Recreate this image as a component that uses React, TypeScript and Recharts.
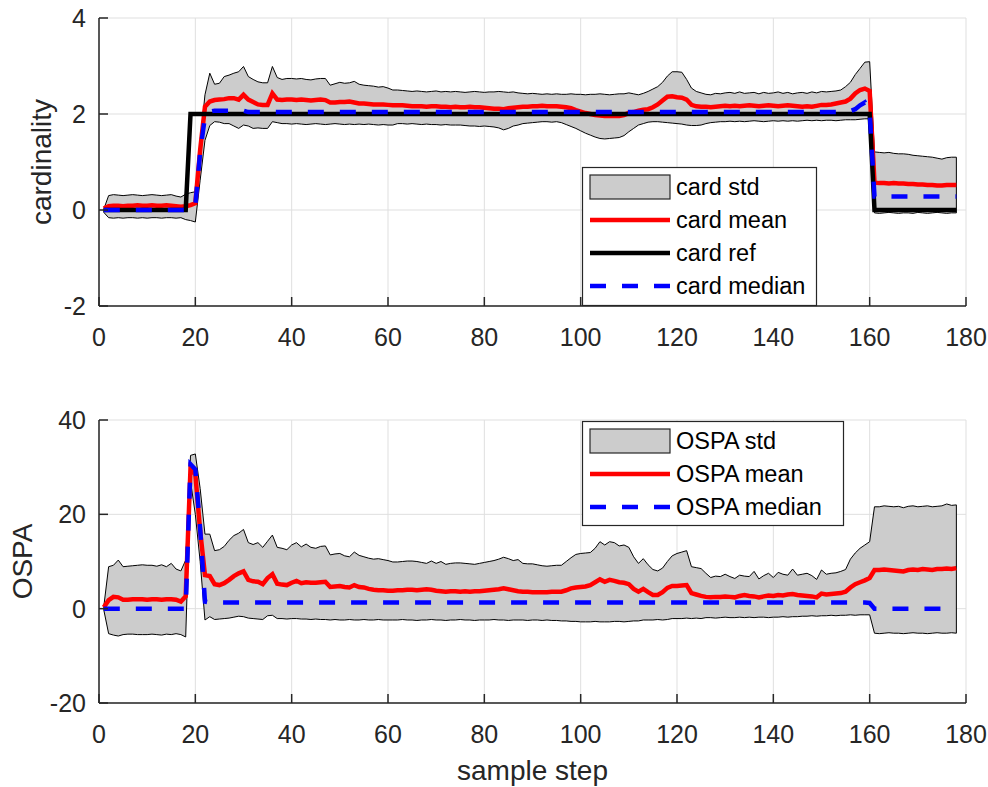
import React from 'react';
import { ComposedChart, Area, Line, XAxis, YAxis, CartesianGrid, ReferenceLine } from 'recharts';

// ---------- data (sample steps 1..178) ----------
const cardUpper = [
  0.02, 0.30, 0.32, 0.31, 0.30, 0.31, 0.32, 0.31, 0.30, 0.31,
  0.32, 0.31, 0.30, 0.31, 0.32, 0.29, 0.27, 0.33, 0.36, 0.38,
  1.40, 2.40, 2.85, 2.62, 2.64, 2.78, 2.81, 2.85, 2.88, 2.99,
  2.78, 2.72, 2.67, 2.65, 2.65, 2.99, 2.76, 2.72, 2.74, 2.74,
  2.73, 2.74, 2.72, 2.71, 2.73, 2.74, 2.74, 2.60, 2.63, 2.66,
  2.64, 2.65, 2.68, 2.62, 2.60, 2.59, 2.58, 2.56, 2.57, 2.54,
  2.50, 2.50, 2.49, 2.48, 2.47, 2.48, 2.47, 2.46, 2.47, 2.48,
  2.46, 2.47, 2.46, 2.47, 2.46, 2.45, 2.46, 2.47, 2.46, 2.45,
  2.46, 2.46, 2.47, 2.46, 2.45, 2.46, 2.44, 2.43, 2.42, 2.43,
  2.42, 2.41, 2.42, 2.41, 2.42, 2.41, 2.41, 2.42, 2.41, 2.41,
  2.40, 2.41, 2.41, 2.42, 2.41, 2.40, 2.41, 2.42, 2.42, 2.44,
  2.42, 2.40, 2.43, 2.47, 2.52, 2.57, 2.66, 2.79, 2.88, 2.88,
  2.87, 2.72, 2.54, 2.47, 2.44, 2.41, 2.40, 2.43, 2.42, 2.44,
  2.45, 2.43, 2.46, 2.43, 2.44, 2.45, 2.42, 2.45, 2.43, 2.44,
  2.46, 2.43, 2.45, 2.42, 2.44, 2.45, 2.43, 2.46, 2.44, 2.47,
  2.46, 2.47, 2.48, 2.50, 2.57, 2.66, 2.82, 2.95, 3.08, 3.09,
  1.21, 1.20, 1.19, 1.20, 1.18, 1.17, 1.17, 1.16, 1.14, 1.13,
  1.12, 1.11, 1.10, 1.08, 1.06, 1.09, 1.10, 1.10,
];

const cardLower = [
  -0.05, -0.16, -0.17, -0.16, -0.17, -0.16, -0.16, -0.17, -0.16, -0.17,
  -0.16, -0.16, -0.17, -0.16, -0.16, -0.17, -0.16, -0.20, -0.22, -0.25,
  0.62, 1.45, 1.76, 1.84, 1.83, 1.80, 1.80, 1.75, 1.70, 1.77,
  1.75, 1.70, 1.71, 1.70, 1.70, 1.84, 1.82, 1.80, 1.80, 1.79,
  1.80, 1.79, 1.78, 1.79, 1.80, 1.79, 1.78, 1.79, 1.80, 1.79,
  1.78, 1.79, 1.78, 1.79, 1.78, 1.79, 1.78, 1.77, 1.78, 1.77,
  1.77, 1.80, 1.80, 1.79, 1.80, 1.79, 1.78, 1.79, 1.78, 1.78,
  1.77, 1.78, 1.77, 1.77, 1.77, 1.76, 1.75, 1.75, 1.74, 1.75,
  1.74, 1.73, 1.71, 1.67, 1.70, 1.75, 1.77, 1.80, 1.81, 1.82,
  1.83, 1.84, 1.84, 1.83, 1.84, 1.82, 1.78, 1.74, 1.70, 1.65,
  1.60, 1.56, 1.52, 1.49, 1.48, 1.49, 1.50, 1.51, 1.55, 1.63,
  1.70, 1.77, 1.80, 1.83, 1.84, 1.84, 1.83, 1.82, 1.81, 1.80,
  1.79, 1.77, 1.76, 1.76, 1.77, 1.80, 1.82, 1.83, 1.84, 1.84,
  1.85, 1.84, 1.85, 1.84, 1.85, 1.86, 1.85, 1.84, 1.85, 1.86,
  1.85, 1.86, 1.85, 1.86, 1.85, 1.86, 1.87, 1.86, 1.87, 1.86,
  1.87, 1.87, 1.86, 1.87, 1.88, 1.88, 1.88, 1.89, 1.90, 1.90,
  -0.06, -0.07, -0.06, -0.05, -0.06, -0.07, -0.06, -0.06, -0.07, -0.05,
  -0.06, -0.07, -0.06, -0.05, -0.06, -0.07, -0.06, -0.06,
];

const cardMean = [
  0.03, 0.08, 0.09, 0.09, 0.08, 0.09, 0.09, 0.10, 0.09, 0.09,
  0.10, 0.09, 0.09, 0.10, 0.09, 0.08, 0.07, 0.08, 0.10, 0.14,
  1.25, 2.15, 2.26, 2.29, 2.30, 2.31, 2.33, 2.33, 2.30, 2.40,
  2.30, 2.25, 2.20, 2.19, 2.19, 2.43, 2.30, 2.29, 2.30, 2.30,
  2.29, 2.30, 2.29, 2.28, 2.29, 2.30, 2.29, 2.24, 2.24, 2.25,
  2.25, 2.26, 2.24, 2.22, 2.22, 2.21, 2.20, 2.20, 2.20, 2.19,
  2.18, 2.18, 2.18, 2.17, 2.16, 2.16, 2.16, 2.15, 2.16, 2.16,
  2.15, 2.15, 2.14, 2.15, 2.14, 2.14, 2.15, 2.14, 2.14, 2.13,
  2.12, 2.11, 2.11, 2.10, 2.12, 2.13, 2.14, 2.15, 2.15, 2.16,
  2.16, 2.17, 2.16, 2.16, 2.16, 2.15, 2.14, 2.12, 2.08, 2.05,
  2.02, 2.00, 1.98, 1.97, 1.96, 1.96, 1.96, 1.96, 1.98, 2.02,
  2.04, 2.07, 2.09, 2.10, 2.14, 2.20, 2.28, 2.36, 2.37, 2.35,
  2.34, 2.30, 2.19, 2.16, 2.15, 2.15, 2.14, 2.15, 2.16, 2.17,
  2.16, 2.17, 2.16, 2.17, 2.18, 2.17, 2.16, 2.17, 2.18, 2.17,
  2.16, 2.17, 2.18, 2.17, 2.16, 2.15, 2.16, 2.15, 2.17, 2.19,
  2.19, 2.20, 2.22, 2.24, 2.26, 2.32, 2.43, 2.50, 2.53, 2.48,
  0.57, 0.56, 0.56, 0.55, 0.56, 0.55, 0.55, 0.54, 0.54, 0.53,
  0.53, 0.52, 0.52, 0.51, 0.51, 0.52, 0.52, 0.52,
];

const cardRef = [
  0, 0, 0, 0, 0, 0, 0, 0, 0, 0,
  0, 0, 0, 0, 0, 0, 0, 0, 2, 2,
  2, 2, 2, 2, 2, 2, 2, 2, 2, 2,
  2, 2, 2, 2, 2, 2, 2, 2, 2, 2,
  2, 2, 2, 2, 2, 2, 2, 2, 2, 2,
  2, 2, 2, 2, 2, 2, 2, 2, 2, 2,
  2, 2, 2, 2, 2, 2, 2, 2, 2, 2,
  2, 2, 2, 2, 2, 2, 2, 2, 2, 2,
  2, 2, 2, 2, 2, 2, 2, 2, 2, 2,
  2, 2, 2, 2, 2, 2, 2, 2, 2, 2,
  2, 2, 2, 2, 2, 2, 2, 2, 2, 2,
  2, 2, 2, 2, 2, 2, 2, 2, 2, 2,
  2, 2, 2, 2, 2, 2, 2, 2, 2, 2,
  2, 2, 2, 2, 2, 2, 2, 2, 2, 2,
  2, 2, 2, 2, 2, 2, 2, 2, 2, 2,
  2, 2, 2, 2, 2, 2, 2, 2, 2, 2,
  0, 0, 0, 0, 0, 0, 0, 0, 0, 0,
  0, 0, 0, 0, 0, 0, 0, 0,
];

const cardMedian = [
  0, 0, 0, 0, 0, 0, 0, 0, 0, 0,
  0, 0, 0, 0, 0, 0, 0, 0, 0, 0.10,
  1.20, 1.95, 2.05, 2.07, 2.07, 2.07, 2.07, 2.07, 2.07, 2.07,
  2.04, 2.04, 2.04, 2.04, 2.04, 2.04, 2.04, 2.04, 2.04, 2.04,
  2.04, 2.04, 2.04, 2.04, 2.04, 2.04, 2.04, 2.04, 2.04, 2.04,
  2.04, 2.04, 2.04, 2.04, 2.04, 2.04, 2.04, 2.04, 2.04, 2.04,
  2.04, 2.04, 2.04, 2.04, 2.04, 2.04, 2.04, 2.04, 2.04, 2.04,
  2.04, 2.04, 2.04, 2.04, 2.04, 2.04, 2.04, 2.04, 2.04, 2.04,
  2.04, 2.04, 2.04, 2.04, 2.04, 2.04, 2.04, 2.04, 2.04, 2.04,
  2.04, 2.04, 2.04, 2.04, 2.04, 2.04, 2.04, 2.04, 2.04, 2.04,
  2.04, 2.04, 2.04, 2.04, 2.04, 2.04, 2.04, 2.04, 2.04, 2.04,
  2.04, 2.04, 2.04, 2.04, 2.04, 2.04, 2.04, 2.04, 2.04, 2.04,
  2.04, 2.04, 2.04, 2.04, 2.04, 2.04, 2.04, 2.04, 2.04, 2.04,
  2.04, 2.04, 2.04, 2.04, 2.04, 2.04, 2.04, 2.04, 2.04, 2.04,
  2.04, 2.04, 2.04, 2.04, 2.04, 2.04, 2.04, 2.04, 2.04, 2.04,
  2.04, 2.04, 2.04, 2.04, 2.04, 2.06, 2.10, 2.18, 2.24, 2.05,
  0.28, 0.28, 0.28, 0.28, 0.28, 0.28, 0.28, 0.28, 0.28, 0.28,
  0.28, 0.28, 0.28, 0.28, 0.28, 0.28, 0.28, 0.28,
];

const ospaUpper = [
  0.5, 8.9, 9.2, 10.3, 8.9, 9.0, 9.1, 9.2, 9.3, 9.2,
  9.2, 9.0, 9.3, 8.9, 9.6, 8.4, 8.0, 10.3, 32.5, 32.8,
  25.5, 15.8, 15.8, 12.3, 12.5, 13.2, 14.5, 15.5, 16.0, 16.8,
  14.0, 13.6, 14.0, 13.0, 14.3, 15.6, 13.0, 12.8, 12.5, 13.5,
  14.0, 13.1, 13.7, 13.0, 12.8, 13.2, 13.3, 11.4, 11.6, 11.7,
  11.2, 11.0, 12.0, 11.3, 11.0, 10.7, 10.5, 10.6, 10.4, 10.2,
  9.9, 9.9, 10.0, 10.1, 10.1, 10.0, 9.8, 9.6, 10.1, 9.6,
  10.0, 9.4, 9.6, 9.7, 9.7, 9.6, 9.5, 9.4, 9.6, 9.8,
  10.0, 10.2, 10.5, 10.9, 10.6, 10.2, 10.4, 9.6, 9.5, 9.5,
  9.3, 9.1, 9.0, 9.1, 9.2, 9.2, 10.0, 10.8, 11.5, 11.7,
  11.8, 11.9, 12.8, 14.2, 13.5, 14.2, 14.0, 13.3, 13.5, 13.0,
  11.0, 9.6, 10.6, 9.3, 8.3, 8.0, 8.6, 10.0, 11.2, 11.7,
  12.0, 12.3, 8.9, 8.7, 8.5, 7.5, 6.6, 6.9, 6.8, 7.3,
  6.8, 6.4, 7.1, 6.9, 6.8, 7.9, 6.3, 7.0, 7.5, 6.6,
  7.7, 7.3, 7.1, 8.4, 7.1, 7.3, 7.5, 7.0, 6.2, 8.2,
  7.3, 7.5, 7.6, 7.9, 8.3, 10.5, 11.8, 12.8, 13.5, 14.2,
  21.6, 21.6, 21.8, 21.7, 21.6, 21.7, 21.4, 21.7, 21.8, 21.6,
  21.7, 21.8, 21.6, 21.7, 21.8, 22.2, 21.9, 22.0,
];

const ospaLower = [
  -0.3, -5.3, -5.6, -5.8, -5.5, -5.4, -5.4, -5.5, -5.5, -5.5,
  -5.4, -5.5, -5.6, -5.4, -5.5, -5.3, -5.5, -6.0, 27.0, 20.0,
  10.0, -2.4, -1.7, -2.3, -2.2, -2.1, -2.0, -1.8, -1.6, -1.7,
  -2.0, -2.1, -2.2, -2.3, -1.5, -1.4, -2.1, -2.1, -2.2, -2.1,
  -2.1, -2.2, -2.2, -2.3, -2.2, -2.3, -2.3, -2.4, -2.3, -2.4,
  -2.4, -2.3, -2.4, -2.4, -2.3, -2.4, -2.4, -2.3, -2.4, -2.4,
  -2.4, -2.4, -2.3, -2.4, -2.4, -2.5, -2.4, -2.4, -2.3, -2.4,
  -2.4, -2.5, -2.4, -2.4, -2.3, -2.4, -2.4, -2.5, -2.4, -2.4,
  -2.4, -2.3, -2.4, -2.4, -2.5, -2.4, -2.4, -2.4, -2.5, -2.4,
  -2.4, -2.5, -2.4, -2.5, -2.5, -2.6, -2.6, -2.7, -2.7, -2.8,
  -2.8, -2.8, -2.7, -2.8, -2.8, -2.8, -2.7, -2.7, -2.8, -2.7,
  -2.6, -2.6, -2.4, -2.4, -2.4, -2.3, -2.4, -2.3, -2.1, -2.1,
  -2.1, -2.0, -2.1, -2.0, -2.1, -1.9, -1.9, -2.0, -1.9, -1.8,
  -1.9, -1.9, -1.8, -1.9, -1.8, -1.9, -1.8, -1.8, -1.9, -1.8,
  -1.8, -1.7, -1.8, -1.7, -1.7, -1.6, -1.6, -1.5, -1.6, -1.5,
  -1.5, -1.4, -1.5, -1.4, -1.4, -1.3, -1.4, -1.3, -1.3, -1.3,
  -5.2, -5.3, -5.2, -5.1, -5.2, -5.2, -5.3, -5.2, -5.1, -5.2,
  -5.2, -5.3, -5.2, -5.1, -5.2, -5.2, -5.1, -5.2,
];

const ospaMean = [
  0.3, 1.8, 2.5, 2.4, 1.9, 1.9, 2.0, 2.0, 2.0, 1.9,
  2.0, 2.0, 1.9, 2.0, 2.0, 1.9, 1.5, 2.6, 29.8, 28.5,
  16.5, 7.1, 6.9, 5.2, 5.0, 5.4, 6.1, 6.9, 7.5, 7.9,
  6.1, 5.8, 5.7, 5.2, 6.5, 7.3, 5.3, 5.1, 5.0, 5.5,
  5.9, 5.4, 5.6, 5.5, 5.5, 5.6, 5.7, 4.6, 4.7, 4.8,
  4.6, 4.5, 5.0, 4.6, 4.5, 4.2, 4.0, 3.9, 3.9, 3.8,
  3.8, 3.9, 3.9, 4.0, 4.0, 3.9, 4.0, 4.1, 4.0, 3.8,
  3.7, 3.6, 3.7, 3.7, 3.6, 3.7, 3.6, 3.7, 3.7, 3.8,
  3.9, 4.0, 4.1, 4.3, 4.1, 3.9, 3.7, 3.6, 3.6, 3.5,
  3.5, 3.5, 3.5, 3.6, 3.6, 3.6, 3.9, 4.3, 4.5, 4.6,
  4.7, 5.0, 5.6, 6.2, 5.7, 6.1, 5.9, 5.6, 5.5, 5.2,
  4.2, 3.6, 4.2, 3.5, 2.9, 2.9, 3.5, 4.4, 4.8, 4.8,
  4.9, 5.0, 3.3, 3.0, 2.7, 2.5, 2.4, 2.5, 2.5, 2.6,
  2.5, 2.4, 2.7, 2.9, 2.7, 2.6, 2.4, 2.6, 2.8, 2.7,
  2.9, 2.8, 3.0, 3.1, 2.9, 2.8, 2.7, 2.6, 2.4, 3.2,
  3.0, 3.1, 3.2, 3.3, 3.6, 4.5, 5.2, 5.6, 6.0, 6.5,
  8.2, 8.2, 8.3, 8.2, 8.1, 8.0, 7.9, 8.2, 8.3, 8.2,
  8.4, 8.3, 8.2, 8.4, 8.4, 8.5, 8.4, 8.6,
];

const ospaMedian = [
  0, 0, 0, 0, 0, 0, 0, 0, 0, 0,
  0, 0, 0, 0, 0, 0, 0, 0, 30.6, 29.5,
  17.0, 1.5, 1.3, 1.3, 1.3, 1.3, 1.3, 1.3, 1.3, 1.3,
  1.3, 1.3, 1.3, 1.3, 1.3, 1.3, 1.3, 1.3, 1.3, 1.3,
  1.3, 1.3, 1.3, 1.3, 1.3, 1.3, 1.3, 1.3, 1.3, 1.3,
  1.3, 1.3, 1.3, 1.3, 1.3, 1.3, 1.3, 1.3, 1.3, 1.3,
  1.3, 1.3, 1.3, 1.3, 1.3, 1.3, 1.3, 1.3, 1.3, 1.3,
  1.3, 1.3, 1.3, 1.3, 1.3, 1.3, 1.3, 1.3, 1.3, 1.3,
  1.3, 1.3, 1.3, 1.3, 1.3, 1.3, 1.3, 1.3, 1.3, 1.3,
  1.3, 1.3, 1.3, 1.3, 1.3, 1.3, 1.3, 1.3, 1.3, 1.3,
  1.3, 1.3, 1.3, 1.3, 1.3, 1.3, 1.3, 1.3, 1.3, 1.3,
  1.3, 1.3, 1.3, 1.3, 1.3, 1.3, 1.3, 1.3, 1.3, 1.3,
  1.3, 1.3, 1.3, 1.3, 1.3, 1.3, 1.3, 1.3, 1.3, 1.3,
  1.3, 1.3, 1.3, 1.3, 1.3, 1.3, 1.3, 1.3, 1.3, 1.3,
  1.3, 1.3, 1.3, 1.3, 1.3, 1.3, 1.3, 1.3, 1.3, 1.3,
  1.3, 1.3, 1.3, 1.3, 1.3, 1.3, 1.3, 1.3, 1.3, 1.2,
  0, 0, 0, 0, 0, 0, 0, 0, 0, 0,
  0, 0, 0, 0, 0, 0, 0, 0,
];

const xTicks = [0, 20, 40, 60, 80, 100, 120, 140, 160, 180];
const cardTicks = [-2, 0, 2, 4];
const ospaTicks = [-20, 0, 20, 40];

const cardLegend = ['card std', 'card mean', 'card ref', 'card median'];
const ospaLegend = ['OSPA std', 'OSPA mean', 'OSPA median'];

// ---------- tables ----------
const steps = cardMean.map((_, i) => i + 1);
const cardData = steps.map((s, i) => ({
  step: s,
  band: [cardLower[i], cardUpper[i]],
  mean: cardMean[i],
  ref: cardRef[i],
  median: cardMedian[i],
}));
const ospaData = steps.map((s, i) => ({
  step: s,
  band: [ospaLower[i], ospaUpper[i]],
  mean: ospaMean[i],
  median: ospaMedian[i],
}));

// ---------- styling ----------
const FONT = "'Liberation Sans', Arial, Helvetica, sans-serif";
const AXIS = '#262626';
const GRID = '#dfdfdf';
const TICK_FS = 25;
const LW = 4.5;

const XTick = (props: any) => {
  const { x, y, payload } = props;
  return (
    <g>
      <line x1={x} y1={y} x2={x} y2={y - 9} stroke={AXIS} strokeWidth={1.5} />
      <text x={x} y={y + 31} textAnchor="middle" dominantBaseline="central"
        fontSize={TICK_FS} fill={AXIS} fontFamily={FONT}>{payload.value}</text>
    </g>
  );
};

const YTick = (props: any) => {
  const { x, y, payload } = props;
  return (
    <g>
      <line x1={x} y1={y} x2={x + 9} y2={y} stroke={AXIS} strokeWidth={1.5} />
      <text x={x - 13} y={y} textAnchor="end" dominantBaseline="central"
        fontSize={TICK_FS} fill={AXIS} fontFamily={FONT}>{payload.value}</text>
    </g>
  );
};

type LegendItem = { label: string; kind: 'patch' | 'red' | 'black' | 'blue' };

const LegendBox = ({ left, top, width, height, items }: { left: number; top: number; width: number; height: number; items: LegendItem[] }) => (
  <g transform={`translate(${left},${top})`}>
    <rect x={0.5} y={0.5} width={width - 1} height={height - 1} fill="#fff" stroke={AXIS} strokeWidth={1.2} />
    {items.map((it, i) => {
      const cy = 20 + i * 33;
      let icon: any = null;
      if (it.kind === 'patch') {
        icon = <rect x={8} y={cy - 12} width={80} height={24} fill="#cccccc" stroke={AXIS} strokeWidth={1.2} />;
      } else if (it.kind === 'red') {
        icon = <line x1={8} y1={cy} x2={88} y2={cy} stroke="#ff0000" strokeWidth={LW} />;
      } else if (it.kind === 'black') {
        icon = <line x1={8} y1={cy} x2={88} y2={cy} stroke="#000000" strokeWidth={LW} />;
      } else {
        icon = <line x1={8} y1={cy} x2={88} y2={cy} stroke="#0000ff" strokeWidth={LW} strokeDasharray="16 16" />;
      }
      return (
        <g key={it.label}>
          {icon}
          <text x={94} y={cy} dominantBaseline="central" fontSize={23.5} fill="#000" fontFamily={FONT}>{it.label}</text>
        </g>
      );
    })}
  </g>
);

export default function App() {
  const first = 0;
  const last = steps.length - 1;
  return (
    <div style={{ position: 'absolute', left: 0, top: 0, width: 988, height: 787, background: '#fff', fontFamily: FONT }}>
      <div style={{ position: 'absolute', left: 0, top: 0 }}>
        <ComposedChart width={988} height={360} data={cardData} margin={{ top: 18, right: 22, bottom: 4, left: 0 }}>
          <CartesianGrid stroke={GRID} strokeWidth={1} />
          <XAxis dataKey="step" type="number" domain={[0, 180]} ticks={xTicks} interval={0}
            height={50} tickSize={0} tickMargin={0} tickLine={false}
            axisLine={{ stroke: AXIS, strokeWidth: 1.5 }} tick={<XTick />} />
          <YAxis type="number" domain={[-2, 4]} ticks={cardTicks} interval={0} width={99}
            tickSize={0} tickMargin={0} tickLine={false}
            axisLine={{ stroke: AXIS, strokeWidth: 1.5 }} tick={<YTick />} />
          <Area type="linear" dataKey="band" stroke="#000" strokeWidth={1} fill="#cccccc" fillOpacity={1}
            dot={false} activeDot={false} isAnimationActive={false} />
          <ReferenceLine segment={[{ x: steps[first], y: cardLower[first] }, { x: steps[first], y: cardUpper[first] }]} stroke="#000" strokeWidth={1} />
          <ReferenceLine segment={[{ x: steps[last], y: cardLower[last] }, { x: steps[last], y: cardUpper[last] }]} stroke="#000" strokeWidth={1} />
          <Line type="linear" dataKey="mean" stroke="#ff0000" strokeWidth={LW} dot={false} activeDot={false} isAnimationActive={false} />
          <Line type="linear" dataKey="ref" stroke="#000000" strokeWidth={LW} dot={false} activeDot={false} isAnimationActive={false} />
          <Line type="linear" dataKey="median" stroke="#0000ff" strokeWidth={LW} strokeDasharray="16 16" dot={false} activeDot={false} isAnimationActive={false} />
        </ComposedChart>
      </div>
      <div style={{ position: 'absolute', left: 0, top: 400 }}>
        <ComposedChart width={988} height={387} data={ospaData} margin={{ top: 20, right: 22, bottom: 24, left: 0 }}>
          <CartesianGrid stroke={GRID} strokeWidth={1} />
          <XAxis dataKey="step" type="number" domain={[0, 180]} ticks={xTicks} interval={0}
            height={60} tickSize={0} tickMargin={0} tickLine={false}
            axisLine={{ stroke: AXIS, strokeWidth: 1.5 }} tick={<XTick />} />
          <YAxis type="number" domain={[-20, 40]} ticks={ospaTicks} interval={0} width={99}
            tickSize={0} tickMargin={0} tickLine={false}
            axisLine={{ stroke: AXIS, strokeWidth: 1.5 }} tick={<YTick />} />
          <Area type="linear" dataKey="band" stroke="#000" strokeWidth={1} fill="#cccccc" fillOpacity={1}
            dot={false} activeDot={false} isAnimationActive={false} />
          <ReferenceLine segment={[{ x: steps[first], y: ospaLower[first] }, { x: steps[first], y: ospaUpper[first] }]} stroke="#000" strokeWidth={1} />
          <ReferenceLine segment={[{ x: steps[last], y: ospaLower[last] }, { x: steps[last], y: ospaUpper[last] }]} stroke="#000" strokeWidth={1} />
          <Line type="linear" dataKey="mean" stroke="#ff0000" strokeWidth={LW} dot={false} activeDot={false} isAnimationActive={false} />
          <Line type="linear" dataKey="median" stroke="#0000ff" strokeWidth={LW} strokeDasharray="16 16" dot={false} activeDot={false} isAnimationActive={false} />
        </ComposedChart>
      </div>
      <svg width={988} height={787} style={{ position: 'absolute', left: 0, top: 0, pointerEvents: 'none' }}>
        <text transform="translate(41,162) rotate(-90)" textAnchor="middle" dominantBaseline="central"
          fontSize={28} fill={AXIS} fontFamily={FONT}>cardinality</text>
        <text transform="translate(22,561.5) rotate(-90)" textAnchor="middle" dominantBaseline="central"
          fontSize={28} fill={AXIS} fontFamily={FONT}>OSPA</text>
        <text x={532.5} y={770} textAnchor="middle" dominantBaseline="central"
          fontSize={28} fill={AXIS} fontFamily={FONT}>sample step</text>
        <LegendBox left={582} top={167} width={235} height={139}
          items={[
            { label: cardLegend[0], kind: 'patch' },
            { label: cardLegend[1], kind: 'red' },
            { label: cardLegend[2], kind: 'black' },
            { label: cardLegend[3], kind: 'blue' },
          ]} />
        <LegendBox left={582} top={421} width={262} height={105}
          items={[
            { label: ospaLegend[0], kind: 'patch' },
            { label: ospaLegend[1], kind: 'red' },
            { label: ospaLegend[2], kind: 'blue' },
          ]} />
      </svg>
    </div>
  );
}
